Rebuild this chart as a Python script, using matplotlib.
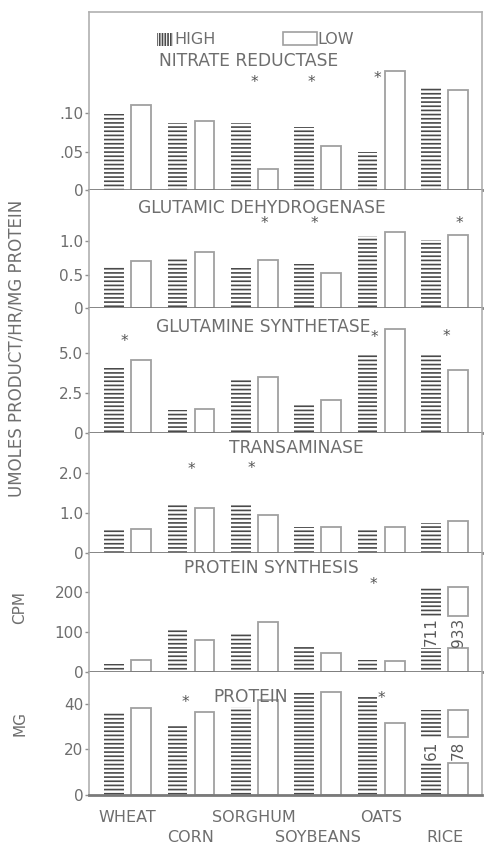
import matplotlib
matplotlib.use('Agg')
import matplotlib.pyplot as plt
from matplotlib.patches import Rectangle
from matplotlib.transforms import blended_transform_factory

# ---------------- data ----------------
crops = ['WHEAT', 'CORN', 'SORGHUM', 'SOYBEANS', 'OATS', 'RICE']
titles = ['NITRATE REDUCTASE', 'GLUTAMIC DEHYDROGENASE', 'GLUTAMINE SYNTHETASE',
          'TRANSAMINASE', 'PROTEIN SYNTHESIS', 'PROTEIN']

nr_high = [0.099, 0.087, 0.087, 0.082, 0.049, 0.134]
nr_low = [0.111, 0.090, 0.027, 0.058, 0.155, 0.131]
gdh_high = [0.635, 0.73, 0.60, 0.66, 1.085, 1.015]
gdh_low = [0.70, 0.845, 0.715, 0.52, 1.14, 1.10]
gs_high = [4.06, 1.46, 3.33, 1.81, 4.94, 4.94]
gs_low = [4.58, 1.50, 3.50, 2.08, 6.50, 3.96]
ta_high = [0.625, 1.225, 1.21, 0.64, 0.60, 0.75]
ta_low = [0.60, 1.125, 0.96, 0.64, 0.65, 0.79]
ps_high = [21, 106, 97.5, 62.5, 29, 711]
ps_low = [29, 79, 125, 48, 27.5, 933]
pr_high = [36.5, 31, 38.8, 45, 43, 61]
pr_low = [38, 36.5, 41.8, 45.4, 31.6, 78]

high_series = [nr_high, gdh_high, gs_high, ta_high, ps_high, pr_high]
low_series = [nr_low, gdh_low, gs_low, ta_low, ps_low, pr_low]

tick_vals = [[0, 0.05, 0.10], [0, 0.5, 1.0], [0, 2.5, 5.0],
             [0, 1.0, 2.0], [0, 100, 200], [0, 20, 40]]
tick_labels = [['0', '.05', '.10'], ['0', '0.5', '1.0'], ['0', '2.5', '5.0'],
               ['0', '1.0', '2.0'], ['0', '100', '200'], ['0', '20', '40']]

# significance asterisks: (crop index, offset within group, y value)
asterisks = [
    [(2, 0.0, 0.140), (3, -0.10, 0.141), (4, -0.06, 0.145)],
    [(2, 0.16, 1.27), (3, -0.05, 1.27), (5, 0.24, 1.27)],
    [(0, -0.05, 5.72), (4, -0.10, 5.97), (5, 0.03, 6.0)],
    [(1, 0.0, 2.08), (2, -0.04, 2.12)],
    [(4, -0.13, 220)],
    [(1, -0.08, 40.4), (4, 0.0, 42.2)],
]

# ---------------- layout ----------------
W, H = 492, 849
panel_px = [(12, 190), (190, 308), (308, 433), (433, 553), (553, 672), (672, 795)]
ymax = [0.2324, 1.77, 7.81, 3.0, 297.5, 54]
title_px = [(249, 61), (262, 208), (263, 327), (296, 448), (271, 568), (251, 697)]
# axis break for bars beyond the axis: (cap, lower top, upper bottom)
breaks = {4: (212, 60, 140), 5: (37.5, 14, 25.5)}
ax_left, ax_right = 89, 482
xlim = (-0.607, 5.59)
off, bw = 0.213, 0.31

TXT = '#6e6e6e'
HATCH_C = '#4a4a4a'
EDGE_C = '#a0a0a0'
plt.rcParams['hatch.linewidth'] = 1.2
plt.rcParams['font.family'] = ['DejaVu Sans']

fig = plt.figure(figsize=(W / 100, H / 100), dpi=100)
fig.patch.set_facecolor('white')

high_kw = dict(width=bw, facecolor='white', edgecolor=HATCH_C, linewidth=0, hatch='----')
low_kw = dict(width=bw, facecolor='white', edgecolor=EDGE_C, linewidth=1.3)

axes = []
for k, (t, b) in enumerate(panel_px):
    ax = fig.add_axes([ax_left / W, 1 - b / H, (ax_right - ax_left) / W, (b - t) / H])
    axes.append(ax)
    ax.set_xlim(*xlim)
    ax.set_ylim(0, ymax[k])
    brk = breaks.get(k)
    for series, dx, kw in ((high_series[k], -off, high_kw), (low_series[k], off, low_kw)):
        for i, v in enumerate(series):
            x = i + dx
            if brk is not None and v > ymax[k]:
                cap, lo, hi = brk
                ax.bar(x, lo, **kw)
                ax.bar(x, cap - hi, bottom=hi, **kw)
                ax.text(x, (lo + hi) / 2, str(v), rotation=90, ha='center', va='center',
                        fontsize=11, color='#5a5a5a')
            else:
                ax.bar(x, v, **kw)
    for gi, dxa, ya in asterisks[k]:
        ax.text(gi + dxa, ya, '*', ha='center', va='center', fontsize=11, color='#555555')

    tx, ty = title_px[k]
    ax.text((tx - ax_left) / (ax_right - ax_left), (b - ty) / (b - t), titles[k],
            transform=ax.transAxes, ha='center', va='center', fontsize=12.3, color=TXT)

    ax.set_yticks(tick_vals[k])
    ax.set_yticklabels(tick_labels[k])
    ax.tick_params(axis='y', direction='out', length=3, width=1, pad=1,
                   colors='#909090', labelcolor=TXT, labelsize=11)
    ax.set_xticks([])
    for s in ('left', 'right', 'top'):
        ax.spines[s].set_color('#b0b0b0')
        ax.spines[s].set_linewidth(1.2)
    ax.spines['bottom'].set_color('#7a7a7a')
    ax.spines['bottom'].set_linewidth(2.0)
    if k > 0:
        ax.spines['top'].set_visible(False)
    ax.set_facecolor('white')

# crop labels under the last panel, alternating rows
ax = axes[-1]
trans = blended_transform_factory(ax.transData, fig.transFigure)
for i, c in enumerate(crops):
    ypx = 817 if i % 2 == 0 else 838
    ax.text(i, 1 - ypx / H, c, transform=trans, ha='center', va='center',
            fontsize=11.5, color=TXT, clip_on=False)

# legend (drawn manually to match the original layout)
def fx(px):
    return px / W

def fy(py):
    return 1 - py / H

fig.add_artist(Rectangle((fx(157), fy(46)), 16 / W, 13 / H, transform=fig.transFigure,
                         facecolor='white', edgecolor=HATCH_C, linewidth=0, hatch='||||||'))
fig.text(fx(174), fy(39), 'HIGH', ha='left', va='center', fontsize=11.5, color=TXT)
fig.add_artist(Rectangle((fx(283), fy(45)), 34 / W, 13 / H, transform=fig.transFigure,
                         facecolor='white', edgecolor=EDGE_C, linewidth=1.2))
fig.text(fx(317), fy(39), 'LOW', ha='left', va='center', fontsize=11.5, color=TXT)

# axis labels
fig.text(fx(17), fy(348), 'UMOLES PRODUCT/HR/MG PROTEIN', rotation=90,
         ha='center', va='center', fontsize=12, color=TXT)
fig.text(fx(20), fy(607), 'CPM', rotation=90, ha='center', va='center', fontsize=11, color=TXT)
fig.text(fx(20), fy(723), 'MG', rotation=90, ha='center', va='center', fontsize=11, color=TXT)

fig.savefig('out.png', dpi=100, facecolor='white')
